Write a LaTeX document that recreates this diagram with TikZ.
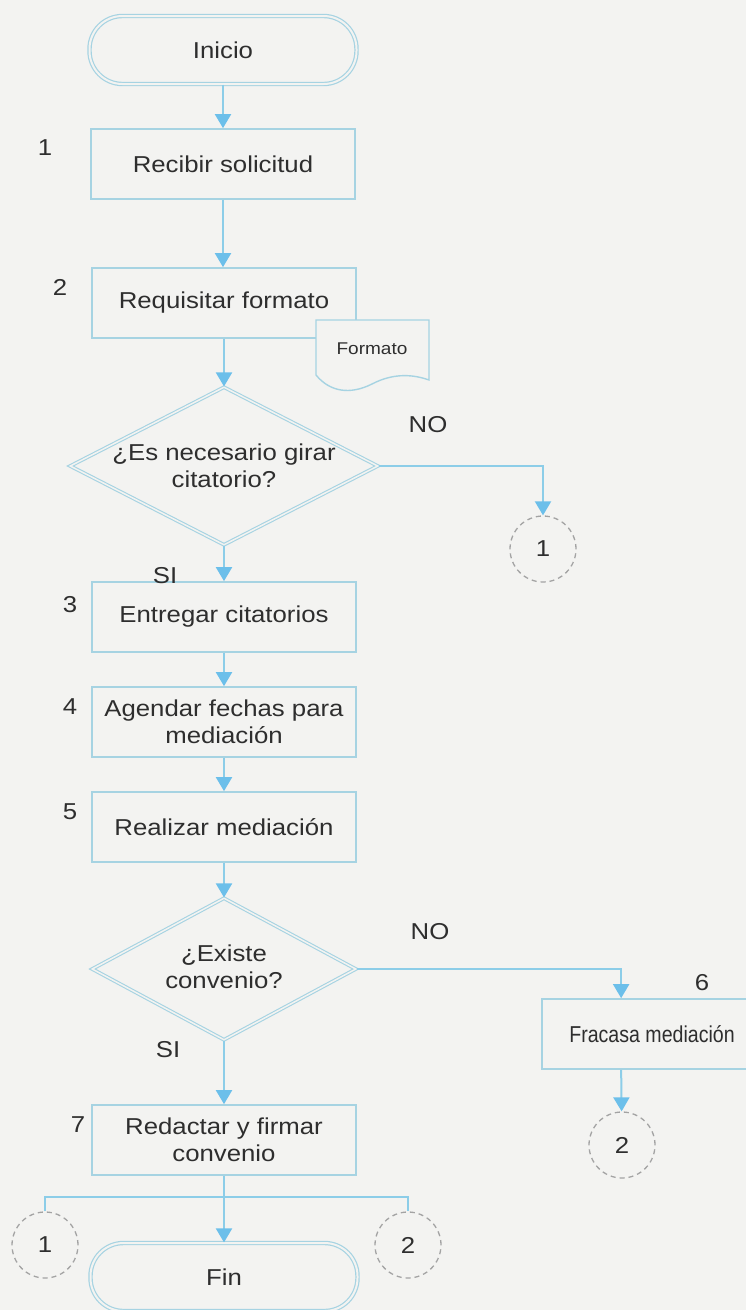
\documentclass[tikz,border=0pt]{standalone}
\usepackage{fontspec}
\setmainfont{Liberation Sans}[FakeStretch=1.12]
\usetikzlibrary{arrows.meta,shapes.geometric,calc}
\definecolor{paper}{HTML}{F3F3F1}
\definecolor{edge}{HTML}{A6D3E2}
\definecolor{flow}{HTML}{8CCDE8}
\definecolor{tip}{HTML}{6CBFEA}
\definecolor{ink}{HTML}{2E2E2E}
\definecolor{conn}{HTML}{A3A3A3}
\begin{document}
\begin{tikzpicture}[x=1pt,y=-1pt,
  font=\fontsize{23}{27}\selectfont, text=ink,
  stepbox/.style={draw=edge, line width=1.7pt, fill=paper, minimum width=264pt, minimum height=70pt, inner sep=0pt, align=center},
  term/.style={draw=edge, double=paper, double distance=2pt, line width=1.2pt, rounded corners=33pt, minimum width=267pt, minimum height=68pt, fill=paper},
  decision/.style={diamond, draw=edge, double=paper, double distance=1.5pt, line width=1.1pt, fill=paper, inner sep=0pt},
  dtext/.style={align=center, inner sep=0pt},
  connector/.style={circle, draw=conn, dash pattern=on 5pt off 4pt, line width=1.3pt, minimum size=66pt, inner sep=0pt, fill=paper},
  flowline/.style={draw=flow, line width=2pt},
  flowarrow/.style={flowline, -{Triangle[width=16pt,length=14pt,color=tip]}},
  lbl/.style={inner sep=0pt}
]
\useasboundingbox (0,0) rectangle (746,1310);
\fill[paper] (0,0) rectangle (746,1310);

% main column
\node[term] (ini) at (223,50) {Inicio};
\node[stepbox] (b1) at (223,164) {Recibir solicitud};
\node[stepbox] (b2) at (224,303) {Requisitar formato};
\path[draw=edge, line width=1.4pt, fill=paper] (316,320) -- (429,320) -- (429,380)
  .. controls (415,375) and (395,372) .. (372,384)
  .. controls (350,395) and (330,392) .. (316,375) -- cycle;
\node[lbl, font=\fontsize{17}{20}\selectfont] (doc) at (372,349) {Formato};

\node[decision, minimum width=308pt, minimum height=158pt] (d1) at (224,466) {};
\node[dtext] (d1t) at (224,466) {¿Es necesario girar\\citatorio?};
\node[connector] (c1) at (543,549) {1};

\node[stepbox] (b3) at (224,617) {Entregar citatorios};
\node[stepbox] (b4) at (224,722) {Agendar fechas para\\mediación};
\node[stepbox] (b5) at (224,827) {Realizar mediación};

\node[decision, minimum width=264pt, minimum height=142pt] (d2) at (224,969) {};
\node[dtext] (d2t) at (224,967) {¿Existe\\convenio?};

\node[stepbox, minimum width=220pt] (b6) at (652,1034) {\scalebox{0.76}[1]{Fracasa mediación}};
\node[connector] (c2) at (622,1145) {2};

\node[stepbox] (b7) at (224,1140) {Redactar y firmar\\convenio};
\node[connector] (c3) at (45,1245) {1};
\node[connector] (c4) at (408,1245) {2};
\node[term] (fin) at (224,1277) {Fin};

% step numbers and branch labels
\node[lbl] (n1) at (45,148) {1};
\node[lbl] (n2) at (60,287) {2};
\node[lbl] (n3) at (70,605) {3};
\node[lbl] (n4) at (70,707) {4};
\node[lbl] (n5) at (70,812) {5};
\node[lbl] (n6) at (702,983) {6};
\node[lbl] (n7) at (78,1125) {7};
\node[lbl] (no1) at (428,425) {NO};
\node[lbl] (si1) at (165,576) {SI};
\node[lbl] (no2) at (430,932) {NO};
\node[lbl] (si2) at (168,1050) {SI};

% connectors
\draw[flowarrow] (ini.south) -- (ini.south |- b1.north);
\draw[flowarrow] (b1.south) -- (b1.south |- b2.north);
\draw[flowarrow] (b2.south) -- (d1.north);
\draw[flowarrow] (d1.east) -| (c1);
\draw[flowarrow] (d1.south) -- (b3);
\draw[flowarrow] (b3) -- (b4);
\draw[flowarrow] (b4) -- (b5);
\draw[flowarrow] (b5) -- (d2.north);
\draw[flowarrow] (d2.east) -| ([xshift=80pt]b6.north west);
\draw[flowarrow] ([xshift=80pt]b6.south west) -- (c2);
\draw[flowarrow] (d2.south) -- (b7);
\coordinate (split) at (224,1197);
\draw[flowarrow] (b7.south) -- (fin.north);
\draw[flowline] (c3.north) |- (split) -| (c4.north);
\end{tikzpicture}
\end{document}
